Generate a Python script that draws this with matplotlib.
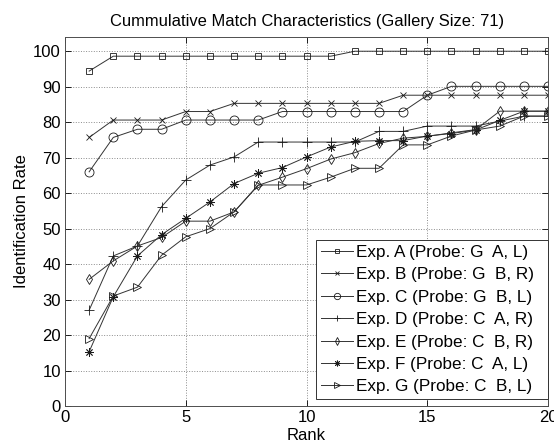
import numpy as np
import matplotlib
matplotlib.use('Agg')
import matplotlib.pyplot as plt

plt.rcParams['font.family'] = ['Liberation Sans', 'DejaVu Sans']

# rank axis and identification rates (%)
ranks = np.arange(1, 21)
exp_a = [94.4] + [98.6] * 10 + [100.0] * 9
exp_b = [75.7, 80.6, 80.6, 80.6, 83.0, 83.0] + [85.3] * 7 + [87.6] * 7
exp_c = [66.0, 75.7, 78.0, 78.0, 80.6, 80.6, 80.6, 80.6] + [83.0] * 6 + [87.6] + [90.1] * 5
exp_d = [27.0, 42.3, 45.1, 56.2, 63.7, 67.9, 70.2, 74.4, 74.4, 74.4,
         74.4, 74.4, 77.4, 77.4, 78.9, 78.9, 78.9, 80.3, 81.7, 81.7]
exp_e = [35.7, 40.9, 45.1, 47.5, 52.1, 52.1, 54.7, 62.2, 64.5, 66.9,
         69.6, 71.4, 74.0, 75.5, 76.0, 77.0, 77.9, 83.1, 83.1, 83.1]
exp_f = [15.3, 30.8, 42.3, 48.3, 52.9, 57.5, 62.7, 65.6, 67.2, 70.2,
         73.0, 74.6, 74.8, 74.8, 76.1, 76.8, 77.8, 80.5, 83.1, 83.1]
exp_g = [19.0, 31.0, 33.5, 42.5, 47.7, 50.0, 54.7, 62.3, 62.3, 62.3,
         64.5, 67.0, 67.0, 73.6, 73.6, 76.1, 77.8, 78.9, 81.7, 81.7]

labels = ['Exp. A (Probe: G  A, L)', 'Exp. B (Probe: G  B, R)',
          'Exp. C (Probe: G  B, L)', 'Exp. D (Probe: C  A, R)',
          'Exp. E (Probe: C  B, R)', 'Exp. F (Probe: C  A, L)',
          'Exp. G (Probe: C  B, L)']
series = [exp_a, exp_b, exp_c, exp_d, exp_e, exp_f, exp_g]
markers = ['s', 'x', 'o', '+', 'd', (8, 2, 0), '>']
sizes = [5, 4, 6.5, 7, 5.5, 6, 6]

fig = plt.figure(figsize=(5.54, 4.44), dpi=100)
ax = fig.add_axes([0.1173, 0.0856, 0.872, 0.831])

for vals, m, ms, lab in zip(series, markers, sizes, labels):
    ax.plot(ranks, vals, color='0.2', lw=0.7, marker=m, markersize=ms,
            markerfacecolor='none', markeredgecolor='0.1', markeredgewidth=0.6,
            label=lab)

ax.set_xlim(0, 20)
ax.set_ylim(0, 104)
ax.set_xticks(range(0, 21, 5))
ax.set_yticks(range(0, 101, 10))
ax.grid(True, linestyle=':', color='0.55', lw=0.7)
ax.tick_params(direction='in', top=True, right=True, labelsize=12, length=4, width=0.6, pad=3)
for s in ax.spines.values():
    s.set_linewidth(0.7)
    s.set_color('0.3')

ax.set_xlabel('Rank', fontsize=12, labelpad=2)
ax.set_ylabel('Identification Rate', fontsize=12, labelpad=3)
ax.set_title('Cummulative Match Characteristics (Gallery Size: 71)', fontsize=11.9, pad=8)

leg = ax.legend(loc='lower left', bbox_to_anchor=(0.5197, 0.019, 0.4803, 0.4),
                mode='expand', borderaxespad=0, fontsize=12.3, fancybox=False,
                framealpha=1, edgecolor='0.2', handlelength=1.9,
                handletextpad=0.15, labelspacing=0.43, borderpad=0.28,
                markerscale=0.7)
leg.get_frame().set_linewidth(0.7)

fig.savefig('out.png', dpi=100)
